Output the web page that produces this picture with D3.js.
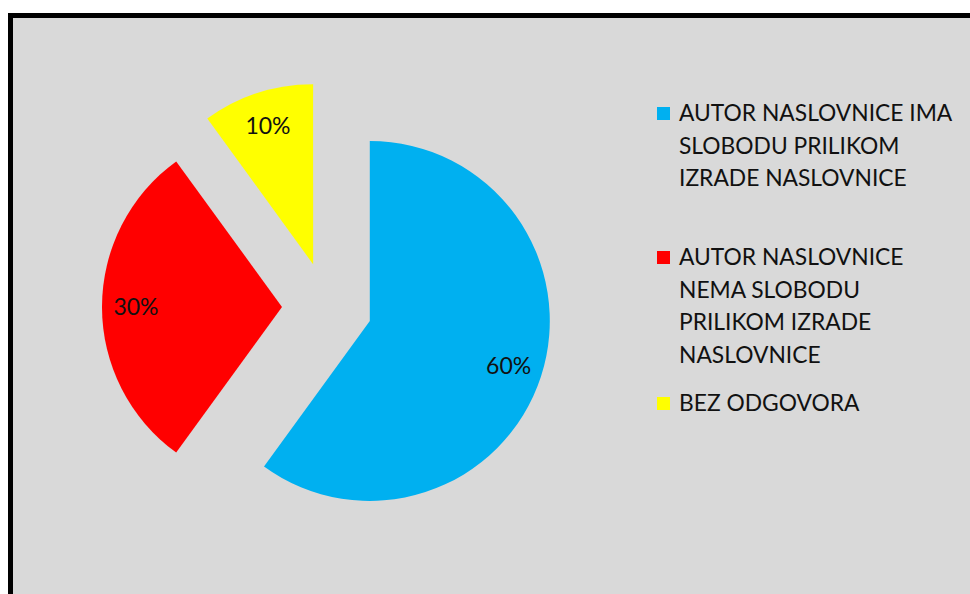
<!DOCTYPE html>
<html>
<head>
<meta charset="utf-8">
<script src="https://cdn.jsdelivr.net/npm/d3@7"></script>
<style>
  html, body { margin: 0; padding: 0; background: #fff; }
  svg { display: block; }
  text { font-family: Lato, "Open Sans", sans-serif; fill: #111; }
</style>
</head>
<body>
<svg id="chart" width="970" height="594"></svg>
<script>
// data
const categories = [
  ["AUTOR NASLOVNICE IMA", "SLOBODU PRILIKOM", "IZRADE NASLOVNICE"],
  ["AUTOR NASLOVNICE", "NEMA SLOBODU", "PRILIKOM IZRADE", "NASLOVNICE"],
  ["BEZ ODGOVORA"]
];
const values = [60, 30, 10];
const colors = ["#00b0f0", "#ff0000", "#ffff00"];

const width = 970, height = 594;
const cx = 327, cy = 307, radius = 180, explode = 45;

const svg = d3.select("#chart");

// plot area + frame
svg.append("rect")
    .attr("x", 13).attr("y", 18)
    .attr("width", width - 13).attr("height", height - 18)
    .attr("fill", "#d9d9d9");
svg.append("path")
    .attr("d", `M10.5,${height} V15.5 H${width}`)
    .attr("fill", "none")
    .attr("stroke", "#000")
    .attr("stroke-width", 5);

const pie = d3.pie().sort(null).value(d => d)(values);
const arc = d3.arc().innerRadius(0).outerRadius(radius);
const labelArc = d3.arc().innerRadius(146).outerRadius(146);

const g = svg.append("g").attr("transform", `translate(${cx},${cy})`);

const slices = g.selectAll("g.slice")
    .data(pie)
    .join("g")
    .attr("class", "slice")
    .attr("transform", d => {
        const a = (d.startAngle + d.endAngle) / 2;
        return `translate(${Math.sin(a) * explode},${-Math.cos(a) * explode})`;
    });

slices.append("path")
    .attr("d", arc)
    .attr("fill", (d, i) => colors[i]);

slices.append("text")
    .attr("transform", d => `translate(${labelArc.centroid(d)})`)
    .attr("text-anchor", "middle")
    .attr("dy", "0.36em")
    .attr("font-size", 23)
    .text(d => d.data + "%");

// legend
const legendX = 657, lineH = 32.5;
const legendTops = [121, 265, 411]; // first baseline of each entry
const legend = svg.append("g");
categories.forEach((lines, i) => {
    const item = legend.append("g").attr("transform", `translate(${legendX},${legendTops[i]})`);
    item.append("rect")
        .attr("x", 0).attr("y", -14)
        .attr("width", 13).attr("height", 13)
        .attr("fill", colors[i]);
    item.selectAll("text")
        .data(lines)
        .join("text")
        .attr("x", 22)
        .attr("y", (d, j) => j * lineH)
        .attr("font-size", 22.8)
        .text(d => d);
});
</script>
</body>
</html>
